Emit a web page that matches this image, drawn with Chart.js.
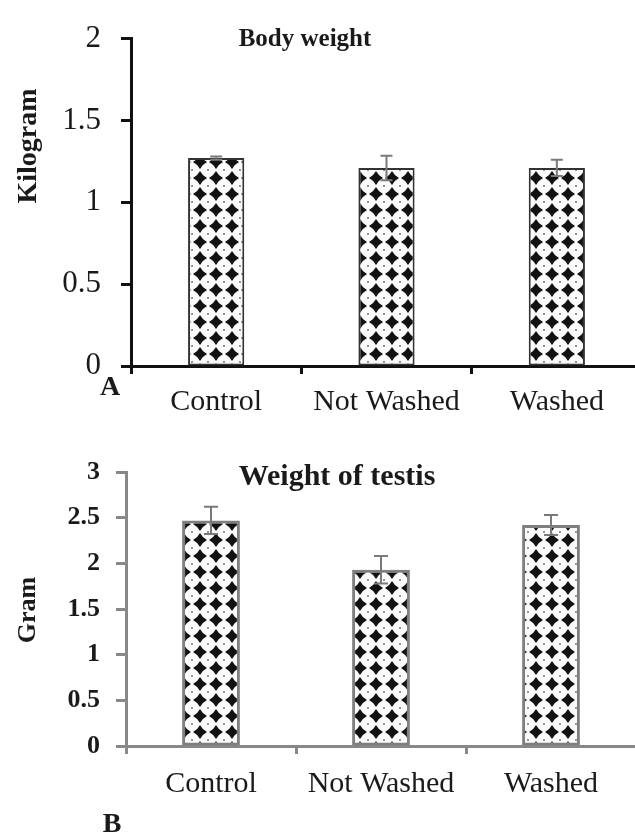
<!DOCTYPE html>
<html>
<head>
<meta charset="utf-8">
<script src="https://cdn.jsdelivr.net/npm/chart.js@4"></script>
<style>
  html, body { margin: 0; padding: 0; background: #fff; overflow: hidden; width: 635px; height: 838px; }
  #wrapA { position: absolute; left: 0; top: 0; width: 645px; height: 420px; }
  #wrapB { position: absolute; left: 0; top: 420px; width: 640px; height: 418px; }
</style>
</head>
<body>
<div id="wrapA"><canvas id="chartA" width="645" height="420"></canvas></div>
<div id="wrapB"><canvas id="chartB" width="640" height="418"></canvas></div>
<script>
// datos
const categories = ['Control', 'Not Washed', 'Washed'];
const bodyWeight = [1.27, 1.21, 1.21];
const bodyWeightErr = [0.01, 0.075, 0.05];
const testisWeight = [2.47, 1.93, 2.42];
const testisWeightErr = [0.15, 0.15, 0.11];
const ticksA = [0, 0.5, 1, 1.5, 2];
const ticksB = [0, 0.5, 1, 1.5, 2, 2.5, 3];

Chart.defaults.font.family = "'Liberation Serif', 'Times New Roman', serif";
Chart.defaults.color = '#1a1a1a';

// patrón de diamantes
function makePattern(ctx, dy) {
    const t = document.createElement('canvas');
    t.width = 16; t.height = 16;
    const c = t.getContext('2d');
    c.fillStyle = '#fbfbfb';
    c.fillRect(0, 0, 16, 16);
    c.fillStyle = '#111';
    const cx = 8, cy = 8, r = 7, k = 2.4;
    c.beginPath();
    c.moveTo(cx, cy - r);
    c.quadraticCurveTo(cx + k, cy - k, cx + r, cy);
    c.quadraticCurveTo(cx + k, cy + k, cx, cy + r);
    c.quadraticCurveTo(cx - k, cy + k, cx - r, cy);
    c.quadraticCurveTo(cx - k, cy - k, cx, cy - r);
    c.fill();
    [[0, 0], [16, 0], [0, 16], [16, 16]].forEach(p => {
        c.beginPath();
        c.arc(p[0], p[1], 0.8, 0, Math.PI * 2);
        c.fill();
    });
    const pat = ctx.createPattern(t, 'repeat');
    pat.setTransform(new DOMMatrix().translate(0, dy));
    return pat;
}

// barras de error
const errorBars = {
    id: 'errorBars',
    afterDatasetsDraw(chart, args, opts) {
        const ctx = chart.ctx;
        const meta = chart.getDatasetMeta(0);
        const y = chart.scales.y;
        const vals = chart.data.datasets[0].data;
        ctx.save();
        ctx.strokeStyle = opts.color;
        ctx.lineWidth = 2;
        meta.data.forEach((bar, i) => {
            const top = y.getPixelForValue(vals[i] + opts.err[i]);
            const bot = y.getPixelForValue(vals[i] - opts.err[i]);
            ctx.beginPath();
            ctx.moveTo(bar.x, top); ctx.lineTo(bar.x, bot);
            ctx.moveTo(bar.x - opts.cap, top); ctx.lineTo(bar.x + opts.cap, top);
            ctx.moveTo(bar.x - opts.cap, bot); ctx.lineTo(bar.x + opts.cap, bot);
            ctx.stroke();
        });
        ctx.restore();
    }
};

// textos sueltos
const labelsPlugin = {
    id: 'labelsPlugin',
    afterDraw(chart, args, opts) {
        const ctx = chart.ctx;
        ctx.save();
        ctx.fillStyle = '#1a1a1a';
        ctx.textAlign = 'center';
        ctx.textBaseline = 'middle';
        opts.items.forEach(it => {
            ctx.save();
            ctx.font = 'bold ' + it.size + "px 'Liberation Serif', serif";
            ctx.translate(it.x, it.y);
            if (it.rot) ctx.rotate(-Math.PI / 2);
            ctx.fillText(it.text, 0, 0);
            ctx.restore();
        });
        ctx.restore();
    }
};

const fmt = v => String(v);

const ctxA = document.getElementById('chartA').getContext('2d');
new Chart(ctxA, {
    type: 'bar',
    data: {
        labels: categories,
        datasets: [{
            data: bodyWeight,
            backgroundColor: makePattern(ctxA, -6),
            borderColor: '#333',
            borderWidth: 2,
            borderSkipped: false,
            barPercentage: 0.33,
            categoryPercentage: 1
        }]
    },
    options: {
        responsive: false,
        animation: false,
        layout: { padding: { top: 27, right: 3, left: 0, bottom: 0 } },
        scales: {
            x: {
                afterFit: s => { s.height = 54; },
                border: { color: '#111', width: 3 },
                grid: { drawOnChartArea: false, tickLength: 8, tickWidth: 3, tickColor: '#111' },
                ticks: { font: { size: 30 }, padding: 10, color: '#1a1a1a' }
            },
            y: {
                min: 0, max: 2,
                afterFit: s => { s.width = 131; },
                afterBuildTicks: s => { s.ticks = ticksA.map(v => ({ value: v })); },
                border: { color: '#111', width: 3 },
                grid: { drawOnChartArea: false, tickLength: 10, tickWidth: 3, tickColor: '#111' },
                ticks: { font: { size: 31 }, padding: 20, color: '#1a1a1a', callback: fmt }
            }
        },
        plugins: {
            legend: { display: false },
            tooltip: { enabled: false },
            errorBars: { err: bodyWeightErr, color: '#7a7a7a', cap: 6 },
            labelsPlugin: { items: [
                { text: 'Body weight', x: 305, y: 40, size: 25 },
                { text: 'Kilogram', x: 29, y: 146, size: 28, rot: true },
                { text: 'A', x: 110, y: 388, size: 28 }
            ] }
        }
    },
    plugins: [errorBars, labelsPlugin]
});

const ctxB = document.getElementById('chartB').getContext('2d');
new Chart(ctxB, {
    type: 'bar',
    data: {
        labels: categories,
        datasets: [{
            data: testisWeight,
            backgroundColor: makePattern(ctxB, 0),
            borderColor: '#7f7f7f',
            borderWidth: 3,
            borderSkipped: false,
            barPercentage: 0.34,
            categoryPercentage: 1
        }]
    },
    options: {
        responsive: false,
        animation: false,
        layout: { padding: { top: 52, right: 4, left: 0, bottom: 0 } },
        scales: {
            x: {
                afterFit: s => { s.height = 92; },
                border: { color: '#888', width: 3 },
                grid: { drawOnChartArea: false, tickLength: 8, tickWidth: 3, tickColor: '#888' },
                ticks: { font: { size: 30 }, padding: 12, color: '#1a1a1a' }
            },
            y: {
                min: 0, max: 3,
                afterFit: s => { s.width = 126; },
                afterBuildTicks: s => { s.ticks = ticksB.map(v => ({ value: v })); },
                border: { color: '#888', width: 3 },
                grid: { drawOnChartArea: false, tickLength: 10, tickWidth: 3, tickColor: '#888' },
                ticks: { font: { size: 26, weight: 'bold' }, padding: 16, color: '#1a1a1a', callback: fmt }
            }
        },
        plugins: {
            legend: { display: false },
            tooltip: { enabled: false },
            errorBars: { err: testisWeightErr, color: '#7a7a7a', cap: 7 },
            labelsPlugin: { items: [
                { text: 'Weight of testis', x: 337, y: 57, size: 30 },
                { text: 'Gram', x: 28, y: 190, size: 26, rot: true },
                { text: 'B', x: 112, y: 405, size: 28 }
            ] }
        }
    },
    plugins: [errorBars, labelsPlugin]
});
</script>
</body>
</html>
